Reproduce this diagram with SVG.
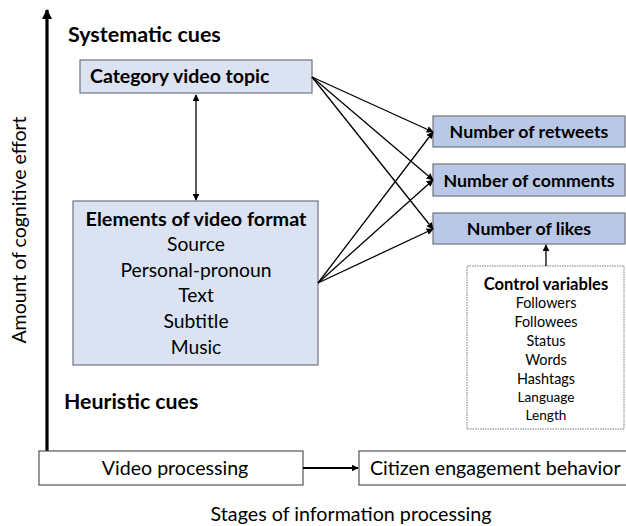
<svg xmlns="http://www.w3.org/2000/svg" width="626" height="526" viewBox="0 0 626 526">
<defs>
<style>
text{font-family:Lato,"Open Sans","Liberation Sans",sans-serif;fill:#000}
.b{font-weight:bold}
.lt{fill:#dbe3f3;stroke:#6f7480;stroke-width:1.2}
.dk{fill:#b9c8e7;stroke:#6f7480;stroke-width:1.2}
.wh{fill:#fff;stroke:#555;stroke-width:1.2}
.c{stroke:#000;stroke-width:1.3;fill:none}
</style>
<marker id="ah" viewBox="0 0 10 10" refX="9" refY="5" markerWidth="7" markerHeight="7" orient="auto-start-reverse" markerUnits="userSpaceOnUse"><path d="M0,0 L10,5 L0,10 z" fill="#000"/></marker>
<marker id="ahb" viewBox="0 0 10 10" refX="9" refY="5" markerWidth="10" markerHeight="12" orient="auto" markerUnits="userSpaceOnUse"><path d="M0,0 L10,5 L0,10 z" fill="#000"/></marker>
</defs>
<rect width="626" height="526" fill="#fff"/>
<g id="axis">
<line x1="47" y1="467" x2="47" y2="10" stroke="#000" stroke-width="3.2" marker-end="url(#ahb)"/>
<text x="26" y="230" font-size="19.5" text-anchor="middle" transform="rotate(-90 26 230)">Amount of cognitive effort</text>
<text x="351" y="521" font-size="19.7" text-anchor="middle">Stages of information processing</text>
</g>
<text class="b" x="68" y="42" font-size="21.5">Systematic cues</text>
<text class="b" x="64" y="409" font-size="21.3">Heuristic cues</text>
<g id="category">
<rect class="lt" x="80" y="60" width="232" height="33"/>
<text class="b" x="90" y="83" font-size="19.5">Category video topic</text>
</g>
<g id="elements">
<rect class="lt" x="73" y="201" width="245" height="164"/>
<text class="b" x="196" y="226" font-size="19.8" text-anchor="middle">Elements of video format</text>
<text x="196" y="251" font-size="19.3" text-anchor="middle">Source</text>
<text x="196" y="277" font-size="19.3" text-anchor="middle">Personal-pronoun</text>
<text x="196" y="302" font-size="19.3" text-anchor="middle">Text</text>
<text x="196" y="328" font-size="19.3" text-anchor="middle">Subtitle</text>
<text x="196" y="354" font-size="19.3" text-anchor="middle">Music</text>
</g>
<g id="retweets">
<rect class="dk" x="433" y="116" width="192" height="31"/>
<text class="b" x="529" y="138" font-size="17.8" text-anchor="middle">Number of retweets</text>
</g>
<g id="comments">
<rect class="dk" x="433" y="164" width="192" height="32"/>
<text class="b" x="529" y="187" font-size="17.8" text-anchor="middle">Number of comments</text>
</g>
<g id="likes">
<rect class="dk" x="433" y="213" width="192" height="31"/>
<text class="b" x="529" y="235" font-size="17.8" text-anchor="middle">Number of likes</text>
</g>
<g id="control">
<rect x="467" y="266" width="157" height="163" fill="#fff" stroke="#777" stroke-width="1" stroke-dasharray="1.5,1"/>
<text class="b" x="546" y="290" font-size="16.6" text-anchor="middle">Control variables</text>
<text x="546" y="308" font-size="14.4" text-anchor="middle">Followers</text>
<text x="546" y="327" font-size="14.4" text-anchor="middle">Followees</text>
<text x="546" y="346" font-size="14.4" text-anchor="middle">Status</text>
<text x="546" y="365" font-size="14.4" text-anchor="middle">Words</text>
<text x="546" y="384" font-size="14.4" text-anchor="middle">Hashtags</text>
<text x="546" y="402" font-size="13.6" text-anchor="middle">Language</text>
<text x="546" y="420" font-size="13.6" text-anchor="middle">Length</text>
</g>
<g id="video">
<rect class="wh" x="39" y="451" width="264" height="34"/>
<text x="175" y="475" font-size="19.6" text-anchor="middle">Video processing</text>
</g>
<g id="citizen">
<rect class="wh" x="359" y="451" width="270" height="34"/>
<text x="370" y="475" font-size="19.6">Citizen engagement behavior</text>
</g>
<g id="connectors">
<line class="c" x1="196" y1="95" x2="196" y2="200" marker-start="url(#ah)" marker-end="url(#ah)"/>
<line class="c" x1="312" y1="77" x2="433" y2="132" marker-end="url(#ah)"/>
<line class="c" x1="312" y1="77" x2="433" y2="180" marker-end="url(#ah)"/>
<line class="c" x1="312" y1="77" x2="433" y2="229" marker-end="url(#ah)"/>
<line class="c" x1="318" y1="283" x2="433" y2="132" marker-end="url(#ah)"/>
<line class="c" x1="318" y1="283" x2="433" y2="180" marker-end="url(#ah)"/>
<line class="c" x1="318" y1="283" x2="433" y2="229" marker-end="url(#ah)"/>
<line class="c" x1="546" y1="266" x2="546" y2="245" marker-end="url(#ah)"/>
<line x1="303" y1="468" x2="358" y2="468" stroke="#000" stroke-width="2.2" marker-end="url(#ah)"/>
</g>
</svg>
